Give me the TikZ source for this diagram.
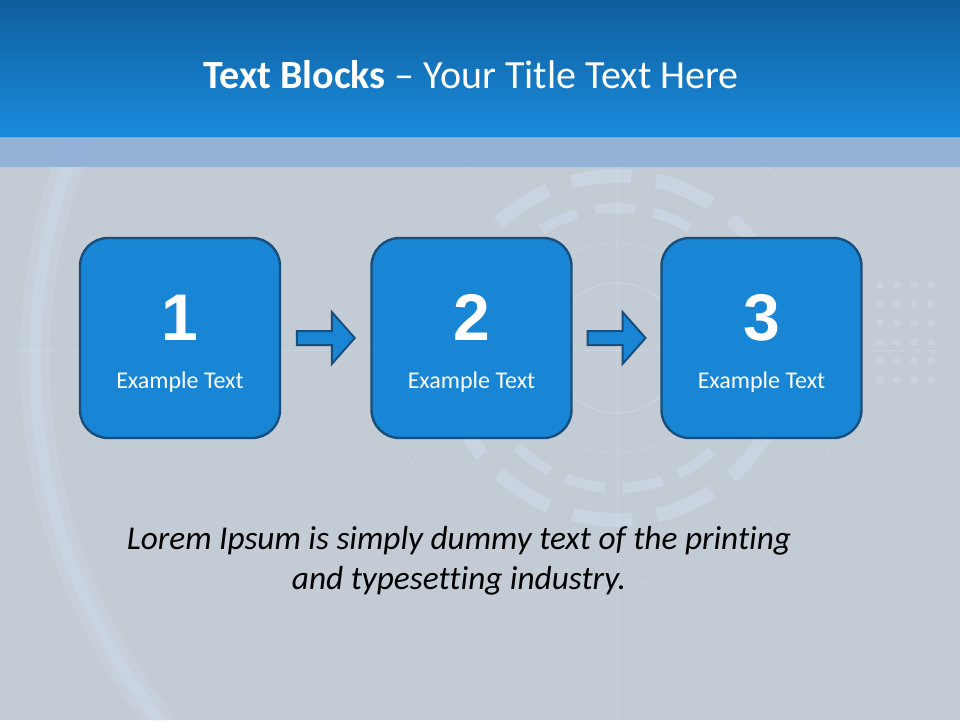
\documentclass[tikz,border=0pt]{standalone}
\usepackage{fontspec}
\setmainfont{Carlito}[Ligatures=NoCommon]
\newfontfamily\numfont{Liberation Sans}
\usetikzlibrary{calc}
\definecolor{barTop}{HTML}{0E5E9E}
\definecolor{barBot}{HTML}{1A8BDB}
\definecolor{bandBlue}{HTML}{8FAFD7}
\definecolor{slideGrey}{HTML}{C3CBD4}
\definecolor{glowBlue}{HTML}{D8ECFF}
\definecolor{boxFill}{HTML}{1886D5}
\definecolor{boxLine}{HTML}{174E7D}
\tikzset{
  blockbox/.style={draw=boxLine,line width=2.4pt,fill=boxFill,rounded corners=28pt,minimum width=200pt,minimum height=200pt,inner sep=0pt},
  bignum/.style={text=white,font=\numfont\bfseries\fontsize{66}{66}\selectfont,anchor=base,inner sep=0pt},
  blocklabel/.style={text=white,font=\fontsize{24}{24}\selectfont,anchor=base,inner sep=0pt},
  steparrow/.style={draw=boxLine,line width=2pt,fill=boxFill,line join=miter},
  glowline/.style={draw=glowBlue,opacity=0.3}
}
\begin{document}
\begin{tikzpicture}[x=1pt,y=-1pt]
  \useasboundingbox (0,0) rectangle (960,720);
  \clip (0,0) rectangle (960,720);
  \fill[slideGrey] (0,0) rectangle (960,720);
  \draw[glowBlue,opacity=0.15,line width=30pt] (620,360) circle[radius=585];
  \draw[glowBlue,opacity=0.2,line width=12pt] (620,360) circle[radius=585];
  \draw[glowline,line width=0.8pt] (617,140) -- (617,720);
  \draw[glowline,line width=0.8pt] (0,350) -- (960,350);
  \draw[glowline,line width=1.2pt] (617,348) circle[radius=65];
  \draw[glowline,line width=0.6pt] (617,348) circle[radius=105];
  \draw[glowline,line width=0.6pt] (617,348) circle[radius=235];
  \draw[glowline,line width=10pt,dash pattern=on 40pt off 18pt] (617,348) circle[radius=140];
  \draw[glowline,line width=14pt,dash pattern=on 60pt off 25pt] (617,348) circle[radius=172];
  \foreach \r in {0,...,5}
    \foreach \c in {0,...,3}
      \fill[glowBlue,opacity=0.25] (880+\c*17,285+\r*19) circle[radius=4];
  \shade[top color=barTop,bottom color=barBot] (0,0) rectangle (960,137);
  \fill[bandBlue,opacity=0.9] (0,137) rectangle (960,167);
  \node[text=white,font=\fontsize{40}{40}\selectfont,anchor=base] (title) at (471,88) {\textbf{Text Blocks} – Your Title Text Here};
  \node[blockbox] (b1) at (180,338) {};
  \node[blockbox] (b2) at (471.5,338) {};
  \node[blockbox] (b3) at (761.5,338) {};
  \foreach \i in {1,2,3} {
    \node[bignum] (n\i) at ($(b\i.center)+(0,2)$) {\i};
    \node[blocklabel] (t\i) at ($(b\i.center)+(0,50)$) {Example Text};
  }
  \coordinate (m1) at ($(b1.east)!0.5!(b2.west)$);
  \coordinate (m2) at ($(b2.east)!0.5!(b3.west)$);
  \foreach \m in {m1,m2}
    \draw[steparrow] ([shift={(-29,-7)}]\m) -- ++(35,0) -- ++(0,-19) -- ++(23,26) -- ++(-23,26) -- ++(0,-19) -- ++(-35,0) -- cycle;
  \node[font=\itshape\fontsize{33.3}{40}\selectfont,align=center,anchor=center] (body) at (459,561) {Lorem Ipsum is simply dummy text of the printing\\and typesetting industry.};
\end{tikzpicture}
\end{document}
